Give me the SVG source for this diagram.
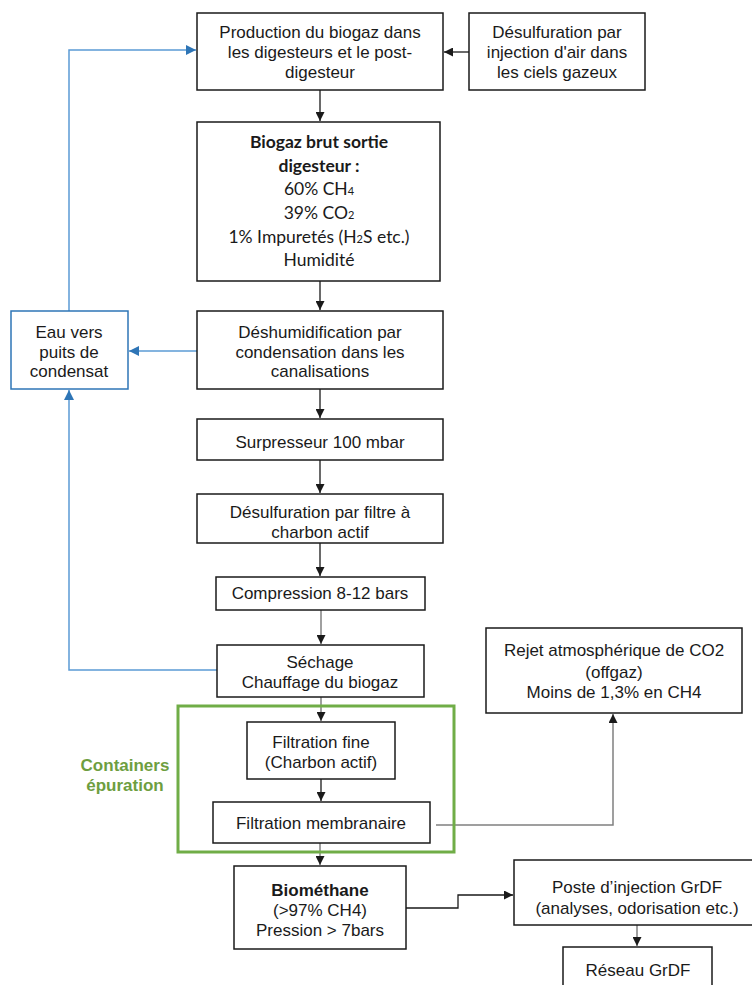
<svg xmlns="http://www.w3.org/2000/svg" width="752" height="985" viewBox="0 0 752 985">
<defs>
<style>
.box{fill:#fff;stroke:#1a1a1a;stroke-width:1.5}
.bbox{fill:#fff;stroke:#2e75b6;stroke-width:1.5}
.t{font-family:"Liberation Sans",Arial,sans-serif;font-size:17px;fill:#1a1a1a;text-anchor:middle}
.c{font-family:Lato,"Open Sans",sans-serif;font-size:17.5px;fill:#1a1a1a;text-anchor:middle}
.cb{font-weight:bold}
.k{fill:none;stroke:#1a1a1a;stroke-width:1.3}
.g{fill:none;stroke:#808080;stroke-width:1.5}
.b{fill:none;stroke:#5b9bd5;stroke-width:1.5}
</style>
<marker id="ak" viewBox="0 0 10 10" refX="10" refY="5" markerWidth="9" markerHeight="9" markerUnits="userSpaceOnUse" orient="auto"><path d="M0,0L10,5L0,10z" fill="#1a1a1a"/></marker>
<marker id="ab" viewBox="0 0 10 10" refX="10" refY="5" markerWidth="10" markerHeight="10" markerUnits="userSpaceOnUse" orient="auto"><path d="M0,0L10,5L0,10z" fill="#2e75b6"/></marker>
</defs>
<rect width="752" height="985" fill="#fff"/>
<g id="connectors">
<path class="k" d="M469,52H444" marker-end="url(#ak)"/>
<path class="k" d="M320,90V121" marker-end="url(#ak)"/>
<path class="k" d="M320,281V310" marker-end="url(#ak)"/>
<path class="k" d="M320,389V418" marker-end="url(#ak)"/>
<path class="k" d="M320,460V493" marker-end="url(#ak)"/>
<path class="k" d="M320,543V576" marker-end="url(#ak)"/>
<path class="g" d="M321,610V644" marker-end="url(#ak)"/>
<path class="g" d="M321,697V721" marker-end="url(#ak)"/>
<path class="k" d="M321,779V801" marker-end="url(#ak)"/>
<path class="g" d="M320,843V865" marker-end="url(#ak)"/>
<path class="g" d="M436,825H613V714" marker-end="url(#ak)"/>
<path class="k" d="M406,908H458V895H513" marker-end="url(#ak)"/>
<path class="g" d="M637,925V946" marker-end="url(#ak)"/>
<path class="b" d="M197,351H129" marker-end="url(#ab)"/>
<path class="b" d="M69,311V50H196" marker-end="url(#ab)"/>
<path class="b" d="M217,670H69V390" marker-end="url(#ab)"/>
</g>
<g id="container">
<rect x="178" y="706" width="276" height="146" fill="none" stroke="#70ad47" stroke-width="3"/>
<text class="t" x="125" y="771" style="fill:#6e9e3f;font-weight:bold">Containers</text>
<text class="t" x="125" y="791" style="fill:#6e9e3f;font-weight:bold">épuration</text>
</g>
<g id="production">
<rect class="box" x="197" y="13" width="246" height="77"/>
<text class="t" x="320" y="38">Production du biogaz dans</text>
<text class="t" x="320" y="58">les digesteurs et le post-</text>
<text class="t" x="320" y="78">digesteur</text>
</g>
<g id="desulf-air">
<rect class="box" x="469" y="13" width="176" height="77"/>
<text class="t" x="557" y="38">Désulfuration par</text>
<text class="t" x="557" y="58">injection d'air dans</text>
<text class="t" x="557" y="78">les ciels gazeux</text>
</g>
<g id="biogaz-brut">
<rect class="box" x="197" y="122" width="243" height="159"/>
<text class="c cb" x="319" y="148">Biogaz brut sortie</text>
<text class="c cb" x="319" y="172">digesteur :</text>
<text class="c" x="319" y="195">60% CH<tspan font-size="11">4</tspan></text>
<text class="c" x="319" y="219">39% CO<tspan font-size="11">2</tspan></text>
<text class="c" x="319" y="243">1% Impuretés (H<tspan font-size="11">2</tspan>S etc.)</text>
<text class="c" x="319" y="266">Humidité</text>
</g>
<g id="eau">
<rect class="bbox" x="11" y="311" width="117" height="78"/>
<text class="t" x="69" y="338">Eau vers</text>
<text class="t" x="69" y="358">puits de</text>
<text class="t" x="69" y="377">condensat</text>
</g>
<g id="deshumidification">
<rect class="box" x="197" y="311" width="246" height="78"/>
<text class="t" x="320" y="338">Déshumidification par</text>
<text class="t" x="320" y="358">condensation dans les</text>
<text class="t" x="320" y="377">canalisations</text>
</g>
<g id="surpresseur">
<rect class="box" x="197" y="419" width="246" height="41"/>
<text class="t" x="320" y="448">Surpresseur 100 mbar</text>
</g>
<g id="desulf-charbon">
<rect class="box" x="197" y="494" width="246" height="49"/>
<text class="t" x="320" y="518">Désulfuration par filtre à</text>
<text class="t" x="320" y="538">charbon actif</text>
</g>
<g id="compression">
<rect class="box" x="216" y="577" width="209" height="33"/>
<text class="t" x="320" y="599">Compression 8-12 bars</text>
</g>
<g id="sechage">
<rect class="box" x="217" y="645" width="207" height="52"/>
<text class="t" x="320" y="668">Séchage</text>
<text class="t" x="320" y="688">Chauffage du biogaz</text>
</g>
<g id="filtration-fine">
<rect class="box" x="247" y="722" width="148" height="57"/>
<text class="t" x="321" y="748">Filtration fine</text>
<text class="t" x="321" y="768">(Charbon actif)</text>
</g>
<g id="filtration-membranaire">
<rect class="box" x="213" y="802" width="217" height="41"/>
<text class="t" x="321" y="829">Filtration membranaire</text>
</g>
<g id="rejet">
<rect class="box" x="486" y="628" width="256" height="85"/>
<text class="t" x="614" y="656">Rejet atmosphérique de CO2</text>
<text class="t" x="614" y="678">(offgaz)</text>
<text class="t" x="614" y="698">Moins de 1,3% en CH4</text>
</g>
<g id="biomethane">
<rect class="box" x="234" y="866" width="172" height="83"/>
<text class="t" x="320" y="896" style="font-weight:bold">Biométhane</text>
<text class="t" x="320" y="916">(&gt;97% CH4)</text>
<text class="t" x="320" y="936">Pression &gt; 7bars</text>
</g>
<g id="poste">
<rect class="box" x="514" y="860" width="250" height="65"/>
<text class="t" x="637" y="893">Poste d’injection GrDF</text>
<text class="t" x="637" y="914">(analyses, odorisation etc.)</text>
</g>
<g id="reseau">
<rect class="box" x="563" y="947" width="149" height="50"/>
<text class="t" x="638" y="976">Réseau GrDF</text>
</g>
</svg>
